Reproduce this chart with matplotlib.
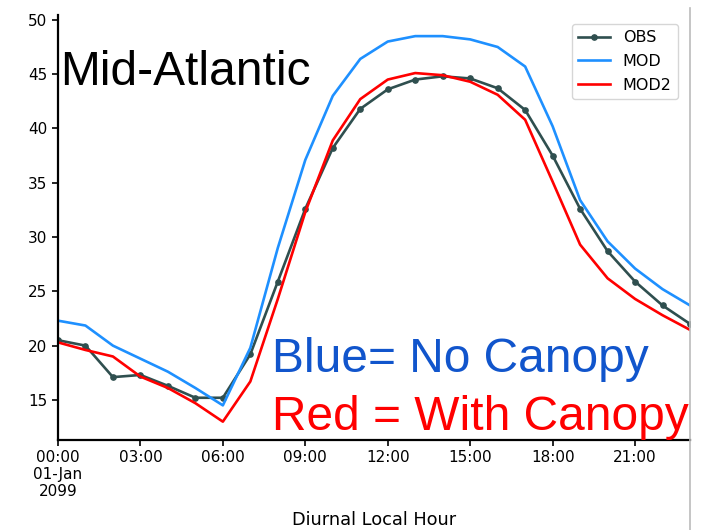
import matplotlib
matplotlib.use("Agg")
import matplotlib.pyplot as plt
from matplotlib.lines import Line2D

hours = list(range(24))
obs = [20.5, 20.0, 17.1, 17.3, 16.3, 15.2, 15.2, 19.2, 25.9, 32.6, 38.2, 41.8,
       43.6, 44.5, 44.8, 44.6, 43.7, 41.7, 37.5, 32.6, 28.7, 25.9, 23.7, 22.0]
mod = [22.3, 21.85, 20.0, 18.8, 17.6, 16.1, 14.5, 19.8, 29.0, 37.1, 43.0, 46.4,
       48.0, 48.5, 48.5, 48.2, 47.5, 45.7, 40.2, 33.4, 29.6, 27.1, 25.2, 23.7]
mod2 = [20.3, 19.6, 19.0, 17.15, 16.1, 14.7, 13.0, 16.7, 24.3, 32.3, 38.9, 42.7,
        44.5, 45.1, 44.9, 44.3, 43.1, 40.8, 35.1, 29.3, 26.2, 24.3, 22.8, 21.45]
xtick_pos = [0, 3, 6, 9, 12, 15, 18, 21]
xtick_labels = ["00:00\n01-Jan\n2099", "03:00", "06:00", "09:00", "12:00", "15:00", "18:00", "21:00"]
ytick_pos = [15, 20, 25, 30, 35, 40, 45, 50]

fig = plt.figure(figsize=(7.07, 5.30), dpi=100)
ax = fig.add_axes([0.082, 0.170, 0.894, 0.802])

ax.plot(hours, obs, color="#2F4F4F", lw=1.9, marker="o", ms=3.8, label="OBS")
ax.plot(hours, mod, color="#1E90FF", lw=1.9, label="MOD")
ax.plot(hours, mod2, color="#FF0000", lw=1.9, label="MOD2")

ax.set_xlim(0, 23)
ax.set_ylim(11.32, 50.46)
ax.set_xticks(xtick_pos)
ax.set_xticklabels(xtick_labels, fontsize=11, linespacing=1.15)
ax.set_yticks(ytick_pos)
ax.tick_params(axis="y", labelsize=11)
ax.tick_params(length=4, width=1.2)
ax.spines["top"].set_visible(False)
ax.spines["right"].set_visible(False)
ax.spines["left"].set_linewidth(1.6)
ax.spines["bottom"].set_linewidth(1.6)

fig.text(0.529, 0.019, "Diurnal Local Hour", fontsize=12.8, ha="center", va="center")

ax.legend(loc="upper right", fontsize=11.5, bbox_to_anchor=(0.981, 0.979),
          borderaxespad=0, handlelength=2.0, labelspacing=0.55, framealpha=0.8)

fig.text(0.085, 0.8396, "Mid-Atlantic", fontsize=34.5, family="Liberation Sans", color="black")
fig.text(0.385, 0.298, "Blue= No Canopy", fontsize=34.5, family="Liberation Sans", color="#1155CC")
fig.text(0.385, 0.189, "Red = With Canopy", fontsize=34.5, family="Liberation Sans", color="#FF0000")

fig.add_artist(Line2D([0.976, 0.976], [0.0, 0.985], transform=fig.transFigure,
                      color="#BBBBBB", lw=1.2))

fig.savefig("out.png", dpi=100)
